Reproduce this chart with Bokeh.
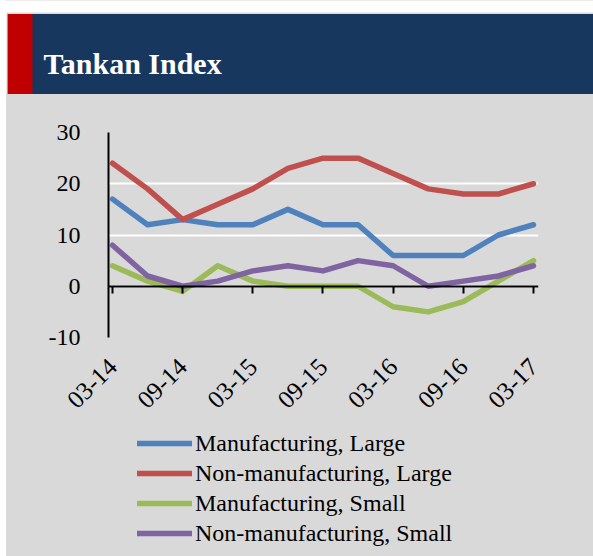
from bokeh.plotting import figure
from bokeh.layouts import column
from bokeh.models import (Range1d, LinearAxis, FixedTicker, Legend, LegendItem)
from bokeh.core.properties import value
from bokeh.embed import file_html
from bokeh.resources import INLINE
import math

# ---- data ----
quarters = ["03-14", "06-14", "09-14", "12-14", "03-15", "06-15", "09-15",
            "12-15", "03-16", "06-16", "09-16", "12-16", "03-17"]
manuf_large = [17, 12, 13, 12, 12, 15, 12, 12, 6, 6, 6, 10, 12]
nonmanuf_large = [24, 19, 13, 16, 19, 23, 25, 25, 22, 19, 18, 18, 20]
manuf_small = [4, 1, -1, 4, 1, 0, 0, 0, -4, -5, -3, 1, 5]
nonmanuf_small = [8, 2, 0, 1, 3, 4, 3, 5, 4, 0, 1, 2, 4]
series_names = ["Manufacturing, Large", "Non-manufacturing, Large",
                "Manufacturing, Small", "Non-manufacturing, Small"]
series_colors = ["#4F81BD", "#C0504D", "#9BBB59", "#8064A2"]
y_ticks = [-10, 0, 10, 20, 30]
y_labels = ["-10", "0", "10", "20", "30"]
title_text = "Tankan Index"

FONT = "Liberation Serif"
GRAY = "#D9D9D9"
NAVY = "#17375E"
RED = "#C00000"

W = 593
LM = 6            # white strip on the left of the panel
WP = W - LM
H_HEAD = 94
H_LEG = 136
H_MAIN = 556 - H_HEAD - H_LEG

all_series = [manuf_large, nonmanuf_large, manuf_small, nonmanuf_small]

# ---- header ----
head = figure(width=W, height=H_HEAD, x_range=Range1d(0, W), y_range=Range1d(0, H_HEAD),
              output_backend="svg", toolbar_location=None, min_border=0,
              min_border_left=0, min_border_right=0, min_border_top=0, min_border_bottom=0,
              background_fill_color="white", border_fill_color="white")
head.frame_align = False
head.axis.visible = False
head.grid.visible = False
head.outline_line_color = None
head.quad(left=[LM], right=[W + 1], bottom=[-1], top=[H_HEAD - 12], fill_color=GRAY, line_color=None)
head.quad(left=[7.3], right=[W + 1], bottom=[-1], top=[H_HEAD - 13.5], fill_color=NAVY, line_color=None)
head.quad(left=[7.3], right=[32], bottom=[-1], top=[H_HEAD - 13.5], fill_color=RED, line_color=None)
head.text(x=[43], y=[H_HEAD - 63], text=[title_text], text_font=value(FONT),
          text_font_size="30px", text_font_style="bold", text_color="white",
          text_baseline="alphabetic", text_align="left")

# ---- main chart ----
xs = list(range(len(quarters)))
p = figure(width=WP, height=H_MAIN, output_backend="svg", toolbar_location=None,
           x_range=Range1d(-0.114, 12.143), y_range=Range1d(-10, 30),
           min_border_left=108 - LM, min_border_right=55, min_border_top=38,
           min_border_bottom=H_MAIN - 243,
           background_fill_color=GRAY, border_fill_color=GRAY)
p.margin = (0, 0, 0, LM)
p.frame_align = False
p.outline_line_color = None
p.xgrid.visible = False
p.ygrid.grid_line_color = "white"
p.ygrid.grid_line_width = 2
p.ygrid.ticker = FixedTicker(ticks=y_ticks)

# y axis
p.yaxis.ticker = FixedTicker(ticks=y_ticks)
p.yaxis.major_label_overrides = dict(zip(y_ticks, y_labels))
p.yaxis.axis_line_color = "black"
p.yaxis.axis_line_width = 2
p.yaxis.major_tick_line_color = None
p.yaxis.minor_tick_line_color = None
p.yaxis.major_label_standoff = 22
p.yaxis.major_label_text_font = FONT
p.yaxis.major_label_text_font_size = "24px"
p.yaxis.major_label_text_color = "black"

# x labels (bottom)
label_ticks = xs[::2]
p.xaxis.ticker = FixedTicker(ticks=label_ticks)
p.xaxis.major_label_overrides = {i: quarters[i] for i in label_ticks}
p.xaxis.axis_line_color = None
p.xaxis.major_tick_line_color = None
p.xaxis.minor_tick_line_color = None
p.xaxis.major_label_orientation = math.pi / 4
p.xaxis.major_label_standoff = 19
p.xaxis.major_label_text_font = FONT
p.xaxis.major_label_text_font_size = "25px"
p.xaxis.major_label_text_color = "black"

# zero axis line with ticks (no labels)
zero_axis = LinearAxis(fixed_location=0, ticker=FixedTicker(ticks=label_ticks),
                       axis_line_color="black", axis_line_width=2,
                       major_tick_out=7, major_tick_in=0, major_tick_line_width=2,
                       minor_tick_line_color=None,
                       major_label_overrides={i: "" for i in label_ticks},
                       major_label_standoff=0)
p.add_layout(zero_axis, "below")

for vals, color in zip(all_series, series_colors):
    p.line(xs, vals, line_color=color, line_width=5.5, line_cap="round", line_join="round")

# ---- legend panel (series drawn out of view; only the legend shows) ----
leg = figure(width=WP, height=H_LEG, output_backend="svg", toolbar_location=None,
             x_range=Range1d(100, 101), y_range=Range1d(100, 101), min_border=0,
             min_border_left=0, min_border_right=0, min_border_top=0, min_border_bottom=0,
             background_fill_color=GRAY, border_fill_color=GRAY)
leg.margin = (0, 0, 0, LM)
leg.frame_align = False
leg.axis.visible = False
leg.grid.visible = False
leg.outline_line_color = None
leg_renderers = [leg.line(xs, vals, line_color=c, line_width=5.5, line_cap="round")
                 for vals, c in zip(all_series, series_colors)]
legend = Legend(items=[LegendItem(label=n, renderers=[r]) for n, r in zip(series_names, leg_renderers)],
                location=(137 - LM, 8), orientation="vertical",
                glyph_width=55, glyph_height=30, label_height=30, label_standoff=3,
                spacing=0, padding=0, margin=0,
                border_line_color=None, background_fill_alpha=0,
                label_text_font=FONT, label_text_font_size="24px", label_text_color="black")
leg.add_layout(legend, "center")

layout = column(head, p, leg, spacing=0)
layout.styles = {"background": "linear-gradient(to right, white 0px, white 6px, #D9D9D9 6px)"}
open("out.html", "w").write(file_html(layout, INLINE))
